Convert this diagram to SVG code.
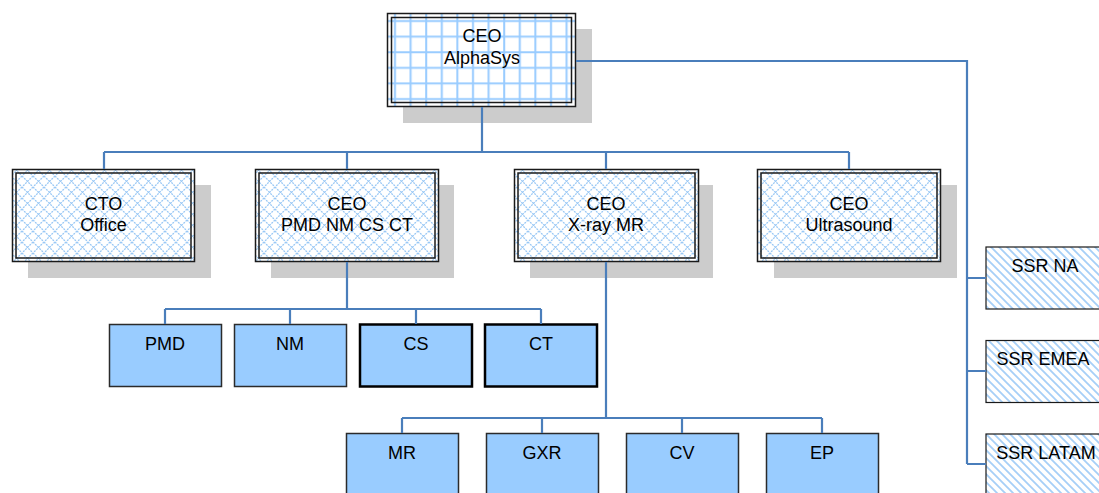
<svg xmlns="http://www.w3.org/2000/svg" width="1099" height="493" viewBox="0 0 1099 493">
<style>
text{font-family:"Liberation Sans",Arial,sans-serif;font-size:18px;fill:#000;text-anchor:middle}
.sh{fill:#cccccc}
.bx{stroke:#1a1a1a;stroke-width:1.5}
.in{fill:none;stroke:#1a1a1a;stroke-width:1.5}
.leaf{fill:#99ccff;stroke:#2b2b2b;stroke-width:1.5}
.leafb{fill:#99ccff;stroke:#000;stroke-width:2.5}
.ssr{fill:url(#stripe);stroke:#1a1a1a;stroke-width:1.2}
.cn{fill:none;stroke:#4a7ebb;stroke-width:2.2}
</style>
<defs>
<pattern id="grid" x="387" y="13" width="15.6" height="15.6" patternUnits="userSpaceOnUse">
<rect width="15.6" height="15.6" fill="#fff"/>
<path d="M8 0V15.6M0 8H15.6" stroke="#99ccff" stroke-width="2"/>
</pattern>
<pattern id="cross" width="11" height="11" patternUnits="userSpaceOnUse">
<rect width="11" height="11" fill="#fff"/>
<path d="M0 0L11 11M11 0L0 11" stroke="#99c8f5" stroke-width="1.3" stroke-dasharray="2 1"/>
</pattern>
<pattern id="stripe" width="8" height="8" patternUnits="userSpaceOnUse">
<rect width="8" height="8" fill="#fff"/>
<path d="M-2 -2L10 10M-2 6L2 10M6 -2L10 2" stroke="#a6cff7" stroke-width="1.8"/>
</pattern>
</defs>

<g id="ceo-alphasys">
<rect class="sh" x="403" y="29" width="189" height="94"/>
<rect class="bx" x="387.5" y="13.5" width="188" height="93" fill="url(#grid)"/>
<rect class="in" x="391.5" y="17.5" width="180" height="85"/>
<text x="482" y="42">CEO</text>
<text x="482" y="64">AlphaSys</text>
</g>

<g id="cto-office">
<rect class="sh" x="28" y="185" width="183" height="93"/>
<rect class="bx" x="12.5" y="169.5" width="182" height="92" fill="url(#cross)"/>
<rect class="in" x="16" y="173" width="175" height="85"/>
<text x="103.5" y="209.5">CTO</text>
<text x="103.5" y="231">Office</text>
</g>

<g id="ceo-pmd">
<rect class="sh" x="271" y="185" width="183" height="93"/>
<rect class="bx" x="255.5" y="169.5" width="183" height="92" fill="url(#cross)"/>
<rect class="in" x="259" y="173" width="176" height="85"/>
<text x="347" y="209.5">CEO</text>
<text x="347" y="231">PMD NM CS CT</text>
</g>

<g id="ceo-xray">
<rect class="sh" x="530" y="185" width="183" height="93"/>
<rect class="bx" x="514.5" y="169.5" width="184" height="92" fill="url(#cross)"/>
<rect class="in" x="518" y="173" width="177" height="85"/>
<text x="606" y="209.5">CEO</text>
<text x="606" y="231">X-ray MR</text>
</g>

<g id="ceo-ultrasound">
<rect class="sh" x="774" y="185" width="183" height="93"/>
<rect class="bx" x="757.5" y="169.5" width="183" height="92" fill="url(#cross)"/>
<rect class="in" x="761" y="173" width="176" height="85"/>
<text x="849" y="209.5">CEO</text>
<text x="849" y="231">Ultrasound</text>
</g>

<g id="pmd"><rect class="leaf" x="109.5" y="324.5" width="112" height="62"/><text x="165" y="350">PMD</text></g>
<g id="nm"><rect class="leaf" x="234.5" y="324.5" width="112" height="62"/><text x="290" y="350">NM</text></g>
<g id="cs"><rect class="leafb" x="360" y="324.5" width="112" height="62"/><text x="416" y="350">CS</text></g>
<g id="ct"><rect class="leafb" x="485" y="324.5" width="112" height="62"/><text x="541" y="350">CT</text></g>

<g id="mr"><rect class="leaf" x="346.5" y="433.5" width="112" height="70"/><text x="402" y="459">MR</text></g>
<g id="gxr"><rect class="leaf" x="486.5" y="433.5" width="112" height="70"/><text x="542" y="459">GXR</text></g>
<g id="cv"><rect class="leaf" x="626.5" y="433.5" width="112" height="70"/><text x="682" y="459">CV</text></g>
<g id="ep"><rect class="leaf" x="766.5" y="433.5" width="112" height="70"/><text x="822" y="459">EP</text></g>

<g id="ssr-na"><rect class="ssr" x="986" y="247" width="120" height="62"/><text x="1045" y="272">SSR NA</text></g>
<g id="ssr-emea"><rect class="ssr" x="986" y="340.5" width="120" height="62"/><text x="1043" y="365">SSR EMEA</text></g>
<g id="ssr-latam"><rect class="ssr" x="986" y="434" width="120" height="70"/><text x="1046" y="459">SSR LATAM</text></g>

<g id="connectors">
<path class="cn" d="M482 107V152M104 152H849M104 152V169M347 152V169M606 152V169M849 152V169"/>
<path class="cn" d="M576 61H967V464M967 278H986M967 371H986M967 464H986"/>
<path class="cn" d="M347 262V309M165 309H541M165 309V324M290 309V324M416 309V324M541 309V324"/>
<path class="cn" d="M606 262V418M402 418H822M402 418V433M542 418V433M682 418V433M822 418V433"/>
</g>
</svg>
